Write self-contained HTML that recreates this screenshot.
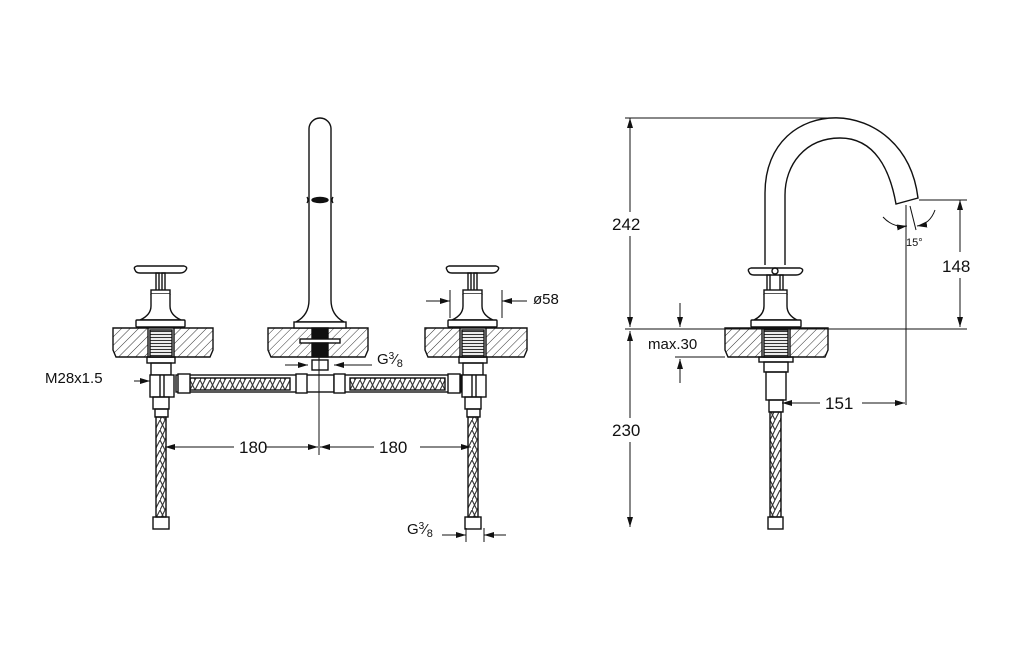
<!DOCTYPE html>
<html><head><meta charset="utf-8"><style>
html,body{margin:0;padding:0;background:#fff;}
svg{display:block}
text{font-family:"Liberation Sans",sans-serif;fill:#111}
</style></head><body>
<svg width="1024" height="657" viewBox="0 0 1024 657" xmlns="http://www.w3.org/2000/svg">
<defs>
<pattern id="h" width="6" height="6" patternUnits="userSpaceOnUse" patternTransform="rotate(45)">
<line x1="0" y1="0" x2="0" y2="6" stroke="#333" stroke-width="1"/>
</pattern>
<pattern id="br" width="10" height="10" patternUnits="userSpaceOnUse">
<path d="M0 10 L5 0 M5 10 L10 0 M0 0 L5 10" stroke="#333" stroke-width="1.1" fill="none"/>
</pattern>
<pattern id="th" width="4" height="3" patternUnits="userSpaceOnUse">
<line x1="0" y1="1.5" x2="4" y2="1.5" stroke="#333" stroke-width="1.2"/>
</pattern>
<marker id="a" viewBox="0 0 10 6" refX="10" refY="3" markerWidth="10" markerHeight="6" orient="auto-start-reverse" markerUnits="userSpaceOnUse">
<path d="M0 0 L10 3 L0 6 Z" fill="#111"/>
</marker>
</defs>
<g fill="none" stroke="#111" stroke-width="1.4">
<path d="M113 328 H213 V350 L210 357 H116 L113 350 Z" fill="url(#h)"/>
<path d="M268 328 H368 V350 L365 357 H271 L268 350 Z" fill="url(#h)"/>
<path d="M425 328 H527 V350 L524 357 H428 L425 350 Z" fill="url(#h)"/>
<g id="k">
<rect x="148" y="328" width="26" height="29" fill="#fff"/>
<rect x="150" y="330" width="22" height="27" fill="url(#th)"/>
<path d="M135 270 Q133 267 137 266 H184 Q188 267 186 270 Q184 273 180 273 H140 Q136 273 135 270 Z" fill="#fff"/>
<rect x="156" y="273" width="3" height="18"/><rect x="162" y="273" width="3" height="18"/>
<rect x="151" y="290" width="19" height="4" fill="#fff"/>
<path d="M151 294 V306 Q151 315 140 320 H181 Q170 315 170 306 V294" fill="#fff"/>
<rect x="136" y="320" width="49" height="7" rx="1" fill="#fff"/>
<rect x="147" y="357" width="28" height="6"/>
<rect x="151" y="363" width="20" height="12"/>
<rect x="150" y="375" width="24" height="22" fill="#fff"/>
<line x1="160" y1="375" x2="160" y2="397"/><line x1="164" y1="375" x2="164" y2="397"/>
<rect x="153" y="397" width="16" height="12"/>
<rect x="155" y="409" width="13" height="8"/>
<rect x="156" y="417" width="10" height="100" fill="url(#br)"/>
<rect x="153" y="517" width="16" height="12"/>
</g>
<use href="#k" transform="translate(312,0)"/>
<path d="M309 300 V129 A11 11 0 0 1 331 129 V300 Q331 315 344 322 H296 Q309 315 309 300 Z" fill="#fff"/>
<ellipse cx="320" cy="200" rx="8" ry="2.5" fill="#111"/>
<path d="M307 197 Q309 200 307 203 M333 197 Q331 200 333 203"/>
<rect x="294" y="322" width="52" height="6" fill="#fff"/>
<rect x="312" y="328" width="16" height="10" fill="#111"/>
<rect x="300" y="339" width="40" height="4" fill="#fff"/>
<rect x="312" y="343" width="16" height="14" fill="#111"/>
<rect x="312" y="360" width="16" height="10"/>
<rect x="306" y="375" width="28" height="17"/>
<rect x="176" y="375" width="128" height="17"/>
<rect x="190" y="378" width="100" height="12" fill="url(#br)"/>
<rect x="178" y="374" width="12" height="19" fill="#fff"/>
<rect x="296" y="374" width="11" height="19" fill="#fff"/>
<rect x="336" y="375" width="125" height="17"/>
<rect x="350" y="378" width="95" height="12" fill="url(#br)"/>
<rect x="334" y="374" width="11" height="19" fill="#fff"/>
<rect x="448" y="374" width="12" height="19" fill="#fff"/>
</g>
<g stroke="#111" stroke-width="1" fill="none">
<line x1="319" y1="345" x2="319" y2="455"/>
<line x1="165" y1="447" x2="234" y2="447" marker-start="url(#a)"/>
<line x1="265" y1="447" x2="318" y2="447" marker-end="url(#a)"/>
<line x1="320" y1="447" x2="374" y2="447" marker-start="url(#a)"/>
<line x1="420" y1="447" x2="471" y2="447" marker-end="url(#a)"/>
<line x1="426" y1="301" x2="450" y2="301" marker-end="url(#a)"/>
<line x1="450" y1="290" x2="450" y2="318"/>
<line x1="502" y1="290" x2="502" y2="318"/>
<line x1="527" y1="301" x2="502" y2="301" marker-end="url(#a)"/>
<line x1="285" y1="365" x2="308" y2="365" marker-end="url(#a)"/>
<line x1="372" y1="365" x2="334" y2="365" marker-end="url(#a)"/>
<line x1="134" y1="381" x2="150" y2="381" marker-end="url(#a)"/>
<line x1="442" y1="535" x2="466" y2="535" marker-end="url(#a)"/>
<line x1="466" y1="528" x2="466" y2="542"/><line x1="484" y1="528" x2="484" y2="542"/>
<line x1="506" y1="535" x2="484" y2="535" marker-end="url(#a)"/>
</g>
<text x="45" y="383" font-size="15">M28x1.5</text>
<text x="239" y="453" font-size="17">180</text>
<text x="379" y="453" font-size="17">180</text>
<text x="533" y="304" font-size="15">ø58</text>
<text x="377" y="364" font-size="15">G<tspan font-size="10" dy="-5">3</tspan><tspan font-size="15" dy="5">⁄</tspan><tspan font-size="11" dy="3">8</tspan></text>
<text x="407" y="534" font-size="15">G<tspan font-size="10" dy="-5">3</tspan><tspan font-size="15" dy="5">⁄</tspan><tspan font-size="11" dy="3">8</tspan></text>
<g fill="none" stroke="#111" stroke-width="1.4">
<path d="M725 328 H828 V350 L825 357 H728 L725 350 Z" fill="url(#h)"/>
<path d="M765 265 V193 C765 92, 905 92, 918 198 L896 204 C890 170, 875 138, 840 138 C805 138, 785 165, 785 195 V265"/>
<rect x="762" y="328" width="28" height="29" fill="#fff"/>
<rect x="764" y="330" width="24" height="27" fill="url(#th)"/>
<path d="M749 272 Q747 269 751 268 H800 Q804 269 802 272 Q800 275 796 275 H754 Q750 275 749 272 Z" fill="#fff"/>
<circle cx="775" cy="271" r="3"/>
<rect x="767" y="275" width="3" height="16"/><rect x="780" y="275" width="3" height="16"/>
<rect x="764" y="290" width="23" height="4" fill="#fff"/>
<path d="M764 294 V306 Q764 315 754 320 H797 Q787 315 787 306 V294" fill="#fff"/>
<rect x="751" y="320" width="50" height="7" rx="1" fill="#fff"/>
<rect x="759" y="357" width="34" height="5"/>
<rect x="764" y="362" width="24" height="10"/>
<rect x="766" y="372" width="20" height="28"/>
<rect x="769" y="400" width="14" height="12"/>
<rect x="770" y="412" width="11" height="105" fill="url(#br)"/>
<rect x="768" y="517" width="15" height="12"/>
</g>
<g stroke="#111" stroke-width="1" fill="none">
<line x1="625" y1="118" x2="830" y2="118"/>
<line x1="625" y1="329" x2="967" y2="329"/>
<line x1="675" y1="357" x2="725" y2="357"/>
<line x1="630" y1="212" x2="630" y2="118" marker-end="url(#a)"/>
<line x1="630" y1="236" x2="630" y2="327" marker-end="url(#a)"/>
<line x1="630" y1="418" x2="630" y2="331" marker-end="url(#a)"/>
<line x1="630" y1="442" x2="630" y2="527" marker-end="url(#a)"/>
<line x1="919" y1="200" x2="967" y2="200"/>
<line x1="960" y1="252" x2="960" y2="200" marker-end="url(#a)"/>
<line x1="960" y1="278" x2="960" y2="327" marker-end="url(#a)"/>
<line x1="906" y1="205" x2="906" y2="405"/>
<line x1="680" y1="303" x2="680" y2="327" marker-end="url(#a)"/>
<line x1="680" y1="383" x2="680" y2="359" marker-end="url(#a)"/>
<line x1="820" y1="403" x2="782" y2="403" marker-end="url(#a)"/>
<line x1="862" y1="403" x2="905" y2="403" marker-end="url(#a)"/>
<path d="M883 217 Q893 228 907 226" marker-end="url(#a)"/>
<path d="M935 210 Q930 224 917 226" marker-end="url(#a)"/>
<line x1="910" y1="206" x2="916" y2="230"/>
</g>
<text x="612" y="230" font-size="17">242</text>
<text x="612" y="436" font-size="17">230</text>
<text x="942" y="272" font-size="17">148</text>
<text x="825" y="409" font-size="17">151</text>
<text x="648" y="349" font-size="15">max.30</text>
<text x="906" y="246" font-size="11">15°</text>
</svg>
</body></html>
